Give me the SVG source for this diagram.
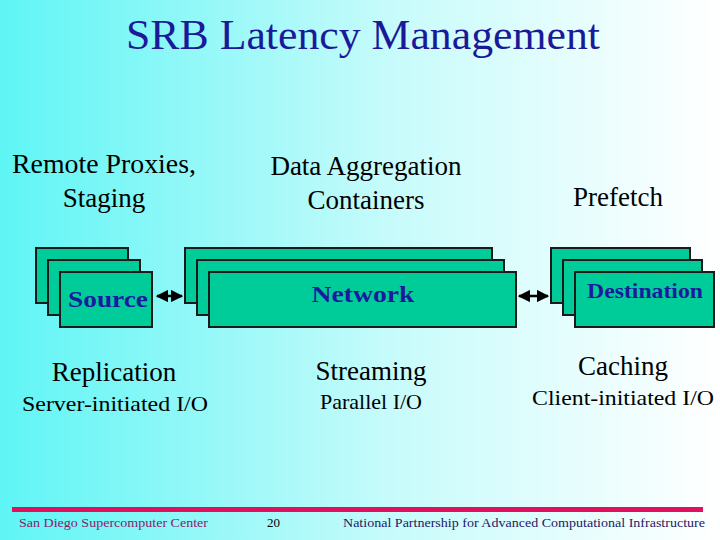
<svg xmlns="http://www.w3.org/2000/svg" width="720" height="540" viewBox="0 0 720 540">
<defs>
<linearGradient id="bg" x1="0" y1="0" x2="1" y2="0"><stop offset="0" stop-color="#5ff5f5"/><stop offset="0.55" stop-color="#c8fbfb"/><stop offset="1" stop-color="#ffffff"/></linearGradient>
<marker id="ah" viewBox="0 0 10 10" refX="9" refY="5" markerWidth="5" markerHeight="5" orient="auto-start-reverse"><path d="M0,0L10,5L0,10z" fill="#000"/></marker>
<style>
text{font-family:"Liberation Serif","Times New Roman","DejaVu Serif",serif}
.b{fill:#00cc99;stroke:#1a1a1a;stroke-width:2}
.t{fill:#000;font-size:27px;text-anchor:middle}
.s{fill:#000;font-size:22px;text-anchor:middle}
.l{fill:#1a1aa0;font-weight:bold;text-anchor:middle}
.f{font-size:13px}
</style>
</defs>
<rect width="720" height="540" fill="url(#bg)"/>
<text x="363" y="49" font-size="42" fill="#1a1a99" text-anchor="middle" textLength="474" lengthAdjust="spacingAndGlyphs">SRB Latency Management</text>
<text class="t" x="104" y="173" textLength="184" lengthAdjust="spacingAndGlyphs">Remote Proxies,</text>
<text class="t" x="104" y="207">Staging</text>
<text class="t" x="366" y="175">Data Aggregation</text>
<text class="t" x="366" y="209">Containers</text>
<text class="t" x="618" y="206">Prefetch</text>
<g id="source"><rect class="b" x="36" y="248" width="92" height="55"/><rect class="b" x="48" y="260" width="92" height="55"/><rect class="b" x="60" y="272" width="92" height="55"/><text class="l" x="108" y="307" font-size="24" textLength="80" lengthAdjust="spacingAndGlyphs">Source</text></g>
<g id="network"><rect class="b" x="185" y="248" width="307" height="55"/><rect class="b" x="197" y="260" width="307" height="55"/><rect class="b" x="209" y="272" width="307" height="55"/><text class="l" x="363" y="302" font-size="24" textLength="103" lengthAdjust="spacingAndGlyphs">Network</text></g>
<g id="destination"><rect class="b" x="551" y="248" width="139" height="55"/><rect class="b" x="563" y="260" width="139" height="55"/><rect class="b" x="575" y="272" width="139" height="55"/><text class="l" x="645" y="298" font-size="21" textLength="116" lengthAdjust="spacingAndGlyphs">Destination</text></g>
<g id="connectors" stroke="#000" stroke-width="2.5"><line x1="157" y1="296" x2="182" y2="296" marker-start="url(#ah)" marker-end="url(#ah)"/><line x1="519" y1="296" x2="548" y2="296" marker-start="url(#ah)" marker-end="url(#ah)"/></g>
<text class="t" x="114" y="381">Replication</text>
<text class="s" x="115" y="411" textLength="186" lengthAdjust="spacingAndGlyphs">Server-initiated I/O</text>
<text class="t" x="371" y="380">Streaming</text>
<text class="s" x="371" y="409">Parallel I/O</text>
<text class="t" x="623" y="375">Caching</text>
<text class="s" x="623" y="405" textLength="182" lengthAdjust="spacingAndGlyphs">Client-initiated I/O</text>
<rect x="12" y="507" width="691" height="5" fill="#e0105f"/>
<text class="f" x="19" y="527" fill="#8b1a6b" textLength="189" lengthAdjust="spacingAndGlyphs">San Diego Supercomputer Center</text>
<text class="f" x="267" y="527" fill="#000">20</text>
<text class="f" x="343" y="527" fill="#1a1a66" textLength="362" lengthAdjust="spacingAndGlyphs">National Partnership for Advanced Computational Infrastructure</text>
</svg>
